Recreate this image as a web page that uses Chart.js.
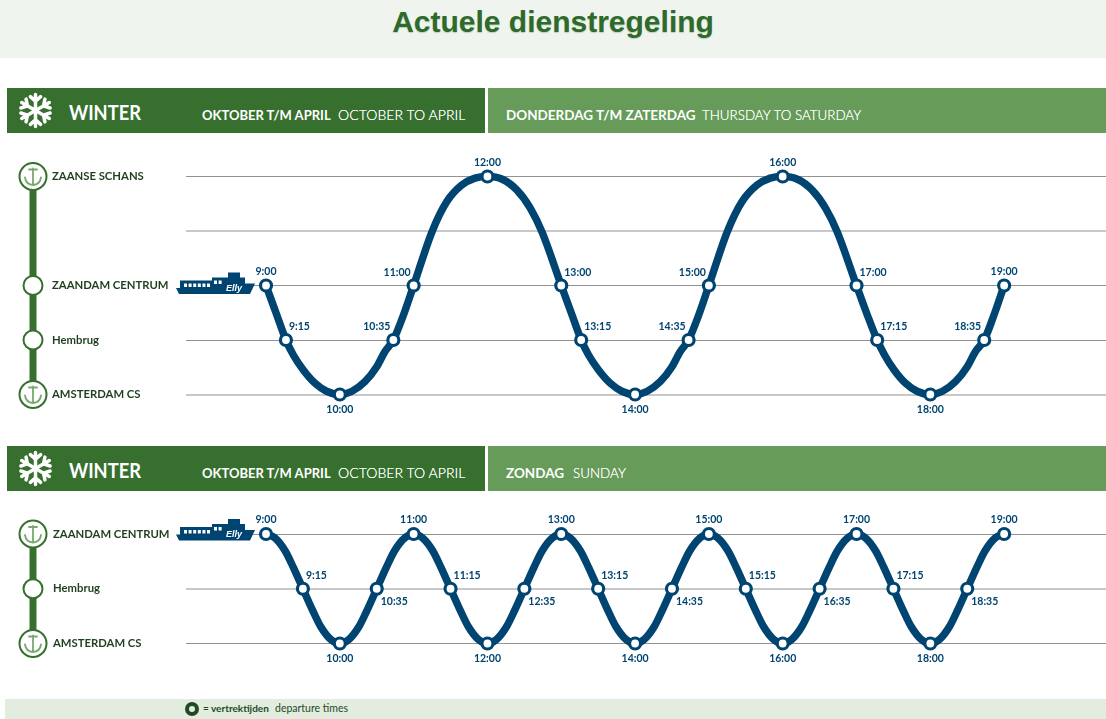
<!DOCTYPE html>
<html><head><meta charset="utf-8">
<script src="https://cdn.jsdelivr.net/npm/chart.js@4"></script>
<style>
html,body{margin:0;padding:0;background:#fff;width:1106px;height:719px;overflow:hidden}
.abs{position:absolute}
#top{left:0;top:0;width:1106px;height:58px;background:#eff4ee}
#title{left:0;top:4px;width:1106px;text-align:center;font:bold 30px/36px "Liberation Sans";color:#2f6a2c;text-shadow:0 1px 1px rgba(47,106,44,.25)}
#foot{left:5px;top:699px;width:1101px;height:20px;background:#e2ecdf}
.dark{background:#376f2f;left:7px;width:478px;height:45px}
.light{background:#669b59;left:488px;width:618px;height:45px}
.txt{color:#fff;white-space:nowrap;font-family:Lato;line-height:20px}
.w{font-size:21px;font-weight:700;left:69px;transform:scaleX(.87);transform-origin:left center}
.b{font-size:13px;font-weight:700}
.b2{font-size:13.5px;font-weight:700}
.l{font-size:14.1px;font-weight:300;text-shadow:0 0 .6px #fff}
.l2{font-size:13.4px;font-weight:300;text-shadow:0 0 .6px #fff}
canvas{position:absolute;left:0}
</style></head><body>
<div class="abs" id="top"></div><div class="abs" id="title">Actuele dienstregeling</div>

<div class="abs dark" style="top:88px"></div><div class="abs light" style="top:88px"></div>
<svg class="abs flake" style="left:17px;top:92px" width="37" height="37" viewBox="-18 -18 36 36"></svg>
<div class="abs txt w" style="top:102px">WINTER</div>
<div class="abs txt b" style="left:202px;top:105px">OKTOBER T/M APRIL</div>
<div class="abs txt l" style="left:338px;top:105px">OCTOBER TO APRIL</div>
<div class="abs txt b2" style="left:506px;top:105px">DONDERDAG T/M ZATERDAG</div>
<div class="abs txt l2" style="left:702px;top:105px">THURSDAY TO SATURDAY</div>

<div class="abs dark" style="top:446px"></div><div class="abs light" style="top:446px"></div>
<svg class="abs flake" style="left:17px;top:450px" width="37" height="37" viewBox="-18 -18 36 36"></svg>
<div class="abs txt w" style="top:460px">WINTER</div>
<div class="abs txt b" style="left:202px;top:463px">OKTOBER T/M APRIL</div>
<div class="abs txt l" style="left:338px;top:463px">OCTOBER TO APRIL</div>
<div class="abs txt b2" style="left:506px;top:463px">ZONDAG</div>
<div class="abs txt l2" style="left:573px;top:463px">SUNDAY</div>

<canvas id="c1" width="1106" height="285" style="top:140px"></canvas>
<canvas id="c2" width="1106" height="180" style="top:500px"></canvas>

<div class="abs" id="foot"></div>
<div class="abs" style="left:185px;top:702px;width:6px;height:6px;border:4px solid #1f4a24;border-radius:50%"></div>
<div class="abs" style="left:203px;top:702px;font:10px/12px Lato;color:#1f4a24;white-space:nowrap"><b>= vertrektijden</b></div>
<div class="abs" style="left:275px;top:702px;font:10.5px/12px Lato;color:#1f4a24;white-space:nowrap">departure times</div>

<script>
const NAVY='#004571', GREEN='#376f2f', PALE='#79a86f';

// Timetable 1: Thursday to Saturday
const stations1=['ZAANSE SCHANS','','ZAANDAM CENTRUM','Hembrug','AMSTERDAM CS'];
const anchors1=[true,false,false,false,true];
const gridHeavy1=[true,false,false,true,false];
const times1=['9:00','9:15','10:00','10:35','11:00','12:00','13:00','13:15','14:00','14:35','15:00','16:00','17:00','17:15','18:00','18:35','19:00'];
const stopX1=[9,9.27,10,10.725,11,12,13,13.27,14,14.725,15,16,17,17.28,18,18.73,19];
const stopY1=[2,3,4,3,2,0,2,3,4,3,2,0,2,3,4,3,2];
const place1=['T','TR','B','TL','TL','T','TR','TR','B','TL','TL','T','TR','TR','B','TL','T'];
const routeX1=[9,9.135,9.27,9.37,9.505,9.665,9.82,10,10.165,10.34,10.5,10.61,10.725,10.86,11,11.25,11.45,11.65,11.83,12,12.2,12.4,12.58,12.74,13,
  13.135,13.27,13.37,13.505,13.665,13.82,14,14.165,14.34,14.5,14.61,14.725,14.86,15,15.25,15.45,15.65,15.83,16,16.2,16.4,16.58,16.74,17,
  17.135,17.28,17.38,17.51,17.665,17.82,18,18.165,18.34,18.5,18.61,18.73,18.86,19];
const routeY1=[2,2.5,3,3.275,3.55,3.795,3.94,4,3.94,3.765,3.49,3.215,3,2.55,2,1.01,.46,.16,.03,0,.05,.25,.58,1.02,2,
  2.5,3,3.275,3.55,3.795,3.94,4,3.94,3.765,3.49,3.215,3,2.55,2,1.01,.46,.16,.03,0,.05,.25,.58,1.02,2,
  2.5,3,3.275,3.55,3.795,3.94,4,3.94,3.765,3.49,3.215,3,2.55,2];

// Timetable 2: Sunday
const stations2=['ZAANDAM CENTRUM','Hembrug','AMSTERDAM CS'];
const anchors2=[true,false,true];
const gridHeavy2=[false,true,false];
const times2=['9:00','9:15','10:00','10:35','11:00','11:15','12:00','12:35','13:00','13:15','14:00','14:35','15:00','15:15','16:00','16:35','17:00','17:15','18:00','18:35','19:00'];
const stopX2=[9,9.5,10,10.5,11,11.5,12,12.5,13,13.5,14,14.5,15,15.5,16,16.5,17,17.5,18,18.5,19];
const stopY2=[0,1,2,1,0,1,2,1,0,1,2,1,0,1,2,1,0,1,2,1,0];
const place2=['T','TR','B','BR','T','TR','B','BR','T','TR','B','BR','T','TR','B','BR','T','TR','B','BR','T'];
const routeX2=[9,9.12,9.26,9.37,9.5,9.63,9.74,9.88,10,10.12,10.26,10.37,10.5,10.63,10.74,10.88,
  11,11.12,11.26,11.37,11.5,11.63,11.74,11.88,12,12.12,12.26,12.37,12.5,12.63,12.74,12.88,
  13,13.12,13.26,13.37,13.5,13.63,13.74,13.88,14,14.12,14.26,14.37,14.5,14.63,14.74,14.88,
  15,15.12,15.26,15.37,15.5,15.63,15.74,15.88,16,16.12,16.26,16.37,16.5,16.63,16.74,16.88,
  17,17.12,17.26,17.37,17.5,17.63,17.74,17.88,18,18.12,18.26,18.37,18.5,18.63,18.74,18.88,19];
const routeY2=[0,.07,.31,.61,1,1.39,1.69,1.93,2,1.93,1.69,1.39,1,.61,.31,.07,
  0,.07,.31,.61,1,1.39,1.69,1.93,2,1.93,1.69,1.39,1,.61,.31,.07,
  0,.07,.31,.61,1,1.39,1.69,1.93,2,1.93,1.69,1.39,1,.61,.31,.07,
  0,.07,.31,.61,1,1.39,1.69,1.93,2,1.93,1.69,1.39,1,.61,.31,.07,
  0,.07,.31,.61,1,1.39,1.69,1.93,2,1.93,1.69,1.39,1,.61,.31,.07,0];

const xMin=7.916, xMax=20.38;

document.querySelectorAll('.flake').forEach(s=>{
  let h='';
  for(let i=0;i<6;i++){
    h+=`<g transform="rotate(${i*60})" stroke="#fff" stroke-width="3.4" fill="none" stroke-linecap="round"><path d="M0 0V-15.5M-5 -13.5L0 -9L5 -13.5"/></g>`;
  }
  s.innerHTML=h;
});

function drawAnchor(ctx,x,y){
  ctx.save();
  ctx.strokeStyle=PALE;ctx.lineWidth=1.8;ctx.lineCap='round';
  ctx.beginPath();ctx.moveTo(x,y-8);ctx.lineTo(x,y+8);
  ctx.moveTo(x-4,y-7);ctx.lineTo(x+4,y-7);
  ctx.moveTo(x-8,y+1);ctx.quadraticCurveTo(x-7,y+8,x,y+8.5);ctx.quadraticCurveTo(x+7,y+8,x+8,y+1);
  ctx.stroke();ctx.restore();
}

function drawShip(ctx,x,y){
  ctx.save();ctx.translate(x,y);ctx.fillStyle=NAVY;
  ctx.beginPath();
  ctx.moveTo(-90,2.5);ctx.lineTo(-86,2.5);ctx.lineTo(-86,-5);ctx.lineTo(-54,-5);ctx.lineTo(-54,-8);
  ctx.lineTo(-38,-8);ctx.lineTo(-38,-13);ctx.lineTo(-26,-13);ctx.lineTo(-26,-8);ctx.lineTo(-21,-8);ctx.lineTo(-21,-2);
  ctx.lineTo(-11,-2);ctx.lineTo(-16,8.5);ctx.lineTo(-87,8.5);ctx.closePath();ctx.fill();
  ctx.fillStyle='#fff';
  for(let i=0;i<6;i++)ctx.fillRect(-82+i*4.6,-2,3,3.5);
  for(let i=0;i<2;i++)ctx.fillRect(-52+i*4.6,-5,3,3.5);
  ctx.font='italic bold 9px "Liberation Sans"';ctx.textAlign='center';ctx.textBaseline='middle';
  ctx.fillText('Elly',-32,3);
  ctx.restore();
}

const placement={
  T:{dx:0,dy:-14,align:'center'},B:{dx:0,dy:15,align:'center'},
  TR:{dx:3,dy:-13,align:'left'},TL:{dx:-3,dy:-13,align:'right'},BR:{dx:4,dy:13,align:'left'}
};

function makeChart(id,cfg){
  const deco={
    id:'deco',
    beforeDatasetsDraw(chart){
      const ctx=chart.ctx,y=chart.scales.y;
      const real=cfg.stations.map((s,i)=>({s,i,p:y.getPixelForValue(i)})).filter(o=>o.s!=='');
      ctx.save();
      ctx.strokeStyle=GREEN;ctx.lineWidth=7;
      ctx.beginPath();ctx.moveTo(33,real[0].p);ctx.lineTo(33,real[real.length-1].p);ctx.stroke();
      real.forEach(o=>{
        const a=cfg.anchors[o.i];
        ctx.beginPath();ctx.arc(33,o.p,a?13.5:9.5,0,Math.PI*2);
        ctx.fillStyle='#fff';ctx.fill();ctx.lineWidth=2;ctx.stroke();
        if(a)drawAnchor(ctx,33,o.p);
      });
      ctx.restore();
      const m=chart.getDatasetMeta(0).data[0];
      drawShip(ctx,m.x,m.y+cfg.shipDy);
    },
    afterDatasetsDraw(chart){
      const ctx=chart.ctx;
      ctx.save();ctx.font='bold 10.5px Lato';ctx.fillStyle=NAVY;ctx.textBaseline='middle';
      chart.getDatasetMeta(0).data.forEach((pt,i)=>{
        const p=placement[cfg.place[i]];
        ctx.textAlign=p.align;
        ctx.fillText(cfg.times[i],pt.x+p.dx,pt.y+p.dy);
      });
      ctx.restore();
    }
  };
  return new Chart(document.getElementById(id),{
    type:'line',
    data:{datasets:[
      {data:cfg.stopX.map((v,i)=>({x:v,y:cfg.stopY[i]})),showLine:false,order:0,
       pointRadius:5.5,pointBorderWidth:3.2,pointBackgroundColor:'#fff',pointBorderColor:NAVY,clip:false},
      {data:cfg.routeX.map((v,i)=>({x:v,y:cfg.routeY[i]})),order:1,
       borderColor:NAVY,borderWidth:7.5,cubicInterpolationMode:'monotone',pointRadius:0,clip:false}
    ]},
    options:{
      responsive:false,animation:false,events:[],
      layout:{autoPadding:false,padding:{left:cfg.left,top:cfg.top,bottom:cfg.bottom,right:0}},
      plugins:{legend:{display:false},tooltip:{enabled:false}},
      scales:{
        x:{type:'linear',min:xMin,max:xMax,display:false},
        y:{type:'linear',reverse:true,min:0,max:cfg.stations.length-1,
          afterFit(s){s.width=186-cfg.left;},
          border:{display:false},
          grid:{drawTicks:false,
            color:c=>cfg.heavy[c.index]?'#c8c8c8':'#929292',
            lineWidth:c=>cfg.heavy[c.index]?2:1},
          ticks:{stepSize:1,crossAlign:'far',padding:0,autoSkip:false,color:'#1f3f1f',
            callback:v=>cfg.stations[v],
            font:{family:'Lato',size:11.3,weight:'bold'}}
        }
      }
    },
    plugins:[deco]
  });
}

makeChart('c1',{stations:stations1,anchors:anchors1,heavy:gridHeavy1,stopX:stopX1,stopY:stopY1,routeX:routeX1,routeY:routeY1,times:times1,place:place1,left:52,top:36.5,bottom:30.5,shipDy:0});
makeChart('c2',{stations:stations2,anchors:anchors2,heavy:gridHeavy2,stopX:stopX2,stopY:stopY2,routeX:routeX2,routeY:routeY2,times:times2,place:place2,left:53,top:34,bottom:36.5,shipDy:-2});
</script>
</body></html>
